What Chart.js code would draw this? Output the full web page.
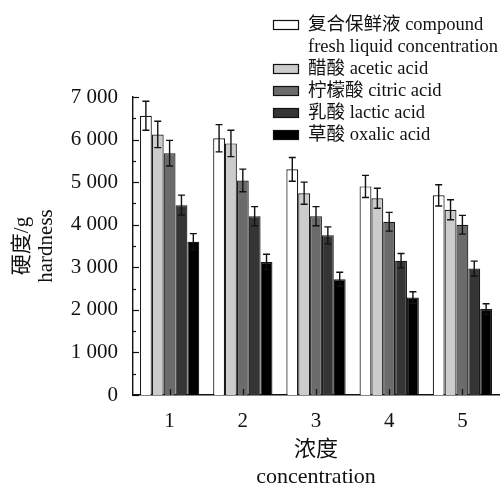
<!DOCTYPE html>
<html>
<head>
<meta charset="utf-8">
<script src="https://cdn.jsdelivr.net/npm/chart.js@4.4.1/dist/chart.umd.min.js"></script>
<style>
  html, body { margin: 0; padding: 0; background: #fff; }
  #wrap { width: 501px; height: 486px; }
</style>
</head>
<body>
<div id="wrap"><canvas id="chart" width="501" height="486"></canvas></div>
<script>
const categories = ['1', '2', '3', '4', '5'];

const seriesLabels = [
  ['复合保鲜液 compound', 'fresh liquid concentration'],
  ['醋酸 acetic acid'],
  ['柠檬酸 citric acid'],
  ['乳酸 lactic acid'],
  ['草酸 oxalic acid'],
];

const compound = [6560, 6030, 5300, 4900, 4690];
const acetic = [6120, 5910, 4740, 4620, 4350];
const citric = [5680, 5040, 4200, 4070, 4000];
const lactic = [4460, 4200, 3750, 3155, 2970];
const oxalic = [3600, 3125, 2720, 2290, 2020];

const compoundErr = [340, 320, 280, 260, 250];
const aceticErr = [310, 310, 260, 235, 235];
const citricErr = [300, 265, 225, 220, 220];
const lacticErr = [235, 225, 200, 170, 175];
const oxalicErr = [190, 180, 165, 135, 125];

const yTicks = [0, 1000, 2000, 3000, 4000, 5000, 6000, 7000];

const fills = ['#ffffff', '#cccccc', '#6b6b6b', '#353535', '#000000'];
const serif = '"Liberation Serif", "Times New Roman", "Noto Sans CJK SC", serif';

const values = [compound, acetic, citric, lactic, oxalic];
const errors = [compoundErr, aceticErr, citricErr, lacticErr, oxalicErr];

function fmt(v) {
  return String(v).replace(/\B(?=(\d{3})+(?!\d))/g, ' ');
}

const extras = {
  id: 'extras',
  afterDatasetsDraw(chart) {
    const ctx = chart.ctx;
    const y = chart.scales.y;
    ctx.save();
    ctx.strokeStyle = '#111';
    ctx.lineWidth = 1.4;
    chart.data.datasets.forEach((ds, di) => {
      const meta = chart.getDatasetMeta(di);
      meta.data.forEach((bar, i) => {
        const v = ds.data[i];
        const e = errors[di][i];
        const top = y.getPixelForValue(v + e);
        const bot = y.getPixelForValue(v - e);
        const x = bar.x;
        ctx.beginPath();
        ctx.moveTo(x, top); ctx.lineTo(x, bot);
        ctx.moveTo(x - 3.5, top); ctx.lineTo(x + 3.5, top);
        ctx.moveTo(x - 3.5, bot); ctx.lineTo(x + 3.5, bot);
        ctx.stroke();
      });
    });
    ctx.restore();
  },
  afterDraw(chart) {
    const ctx = chart.ctx;
    const area = chart.chartArea;
    const x = chart.scales.x;
    const y = chart.scales.y;
    ctx.save();
    ctx.strokeStyle = '#111';
    ctx.lineWidth = 1.2;
    // inward ticks on y axis
    for (let v = 0; v <= 7000; v += 500) {
      const py = Math.round(y.getPixelForValue(v)) + 0.5;
      const len = v % 1000 === 0 ? 6 : 3;
      ctx.beginPath();
      ctx.moveTo(area.left, py); ctx.lineTo(area.left + len, py);
      ctx.stroke();
    }
    // inward ticks on x axis
    categories.forEach((c, i) => {
      const px = Math.round(x.getPixelForValue(i)) + 0.5;
      ctx.beginPath();
      ctx.moveTo(px, area.bottom); ctx.lineTo(px, area.bottom - 6);
      ctx.stroke();
    });

    // axis titles
    ctx.fillStyle = '#111';
    ctx.textAlign = 'center';
    ctx.textBaseline = 'middle';
    ctx.font = '22px ' + serif;
    const cx = (area.left + area.right) / 2;
    ctx.fillText('浓度', cx, 450);
    ctx.fillText('concentration', cx, 477);
    ctx.font = '21px ' + serif;
    const cy = (area.top + area.bottom) / 2;
    ctx.save();
    ctx.translate(22, cy);
    ctx.rotate(-Math.PI / 2);
    ctx.fillText('硬度/g', 0, 0);
    ctx.restore();
    ctx.save();
    ctx.translate(46, cy);
    ctx.rotate(-Math.PI / 2);
    ctx.fillText('hardness', 0, 0);
    ctx.restore();

    // legend
    ctx.textAlign = 'left';
    ctx.font = '18.5px ' + serif;
    let row = 25;
    seriesLabels.forEach((lines, i) => {
      ctx.fillStyle = fills[i];
      ctx.fillRect(273.5, row - 4.5, 25, 9);
      ctx.strokeStyle = '#111';
      ctx.lineWidth = 1.2;
      ctx.strokeRect(273.5, row - 4.5, 25, 9);
      ctx.fillStyle = '#111';
      lines.forEach((t, k) => {
        ctx.fillText(t, 308, row + k * 22);
      });
      row += lines.length * 22;
    });
    ctx.restore();
  }
};

new Chart(document.getElementById('chart'), {
  type: 'bar',
  data: {
    labels: categories,
    datasets: values.map((d, i) => ({
      label: seriesLabels[i].join(' '),
      data: d,
      backgroundColor: fills[i],
      borderColor: '#1a1a1a',
      borderWidth: 1.2,
      categoryPercentage: 0.81,
      barPercentage: 1.0,
    })),
  },
  options: {
    responsive: false,
    animation: false,
    layout: { padding: { top: 97, right: 2, left: 0, bottom: 0 } },
    plugins: { legend: { display: false }, tooltip: { enabled: false } },
    scales: {
      x: {
        grid: { display: false },
        border: { display: true, color: '#111', width: 1.4 },
        ticks: { color: '#111', font: { family: serif, size: 21 }, padding: 6 },
        afterFit(s) { s.height = 91; },
      },
      y: {
        min: 0,
        max: 7000,
        afterBuildTicks(s) { s.ticks = yTicks.map((v) => ({ value: v })); },
        grid: { display: false },
        border: { display: true, color: '#111', width: 1.4 },
        ticks: { color: '#111', font: { family: serif, size: 21 }, padding: 7, callback: (v) => fmt(v) },
        afterFit(s) { s.width = 133; },
      },
    },
  },
  plugins: [extras],
});
</script>
</body>
</html>
